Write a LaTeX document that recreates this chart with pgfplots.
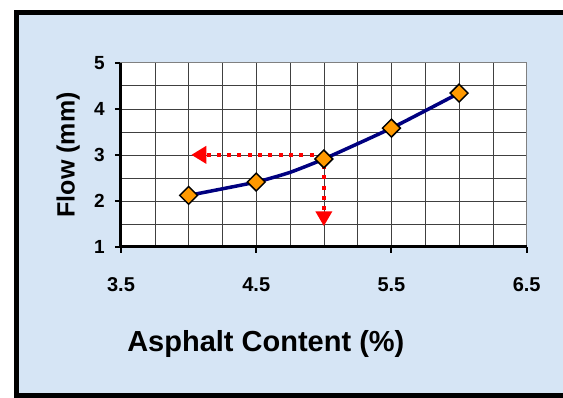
\documentclass[border=0pt]{standalone}
\usepackage{fontspec}
\setmainfont{Liberation Sans}
\usepackage{pgfplots}
\pgfplotsset{compat=1.18}
\usetikzlibrary{arrows.meta}
\definecolor{bgblue}{RGB}{214,229,245}
\definecolor{navyline}{RGB}{0,0,128}
\definecolor{mkorange}{RGB}{255,153,0}
\begin{document}
\begin{tikzpicture}[x=1pt,y=1pt]
\useasboundingbox (0,0) rectangle (563,398);
\begin{scope}
\clip (0,0) rectangle (563,398);
\fill[white] (0,0) rectangle (563,398);
\filldraw[fill=bgblue, draw=black, line width=5pt] (16,2) rectangle (590,385);
\end{scope}
\begin{axis}[
 at={(121pt,151pt)}, anchor=south west,
 scale only axis, width=405.7pt, height=184.3pt,
 xmin=3.5, xmax=6.5, ymin=1, ymax=5,
 xtick={3.5,4.5,5.5,6.5}, ytick={1,2,3,4,5},
 minor x tick num=3, minor y tick num=1,
 grid=both,
 major grid style={gray!50!black, line width=0.5pt},
 minor grid style={gray!50!black, line width=0.5pt},
 axis background/.style={fill=white},
 axis line style={gray, line width=1.2pt},
 xtick pos=left, ytick pos=left,
 tick align=outside,
 major tick length=6pt, minor tick length=0pt,
 major tick style={black, line width=2pt},
 clip=false,
 /pgf/number format/assume math mode=true,
 xticklabel style={font=\bfseries\fontsize{20}{20}\selectfont, anchor=center, yshift=-32pt},
 yticklabel style={font=\bfseries\fontsize{19}{19}\selectfont, anchor=east, inner sep=0pt, xshift=-10pt},
 xlabel={Asphalt Content (\%)},
 ylabel={Flow (mm)},
 xlabel style={at={(axis description cs:0.357,-0.528)}, anchor=center, font=\bfseries\fontsize{29}{29}\selectfont},
 ylabel style={at={(axis description cs:-0.13,0.5)}, anchor=center, font=\bfseries\fontsize{25}{25}\selectfont},
]
\addplot[red, line width=4pt, dash pattern=on 4pt off 6.3pt, -{Triangle[length=15pt,width=17pt]}] coordinates {(5,3) (4.02,3)};
\addplot[red, line width=4pt, dash pattern=on 4pt off 6.3pt, -{Triangle[length=15pt,width=16pt]}] coordinates {(5,3) (5,1.45)};
\addplot[navyline, line width=3.5pt, smooth, tension=0.3] coordinates {(4,2.12) (4.5,2.41) (4.75,2.62) (5,2.91) (5.5,3.58) (6,4.34)};
\addplot[only marks, mark=square*, mark size=6.3pt, mark options={rotate=45, fill=mkorange, draw=black, line width=1.5pt}] coordinates {(4,2.12) (4.5,2.41) (5,2.91) (5.5,3.58) (6,4.34)};
\draw[black, line width=3pt] (rel axis cs:0,1) -- (rel axis cs:0,0) -- (rel axis cs:1,0);
\end{axis}
\end{tikzpicture}
\end{document}
